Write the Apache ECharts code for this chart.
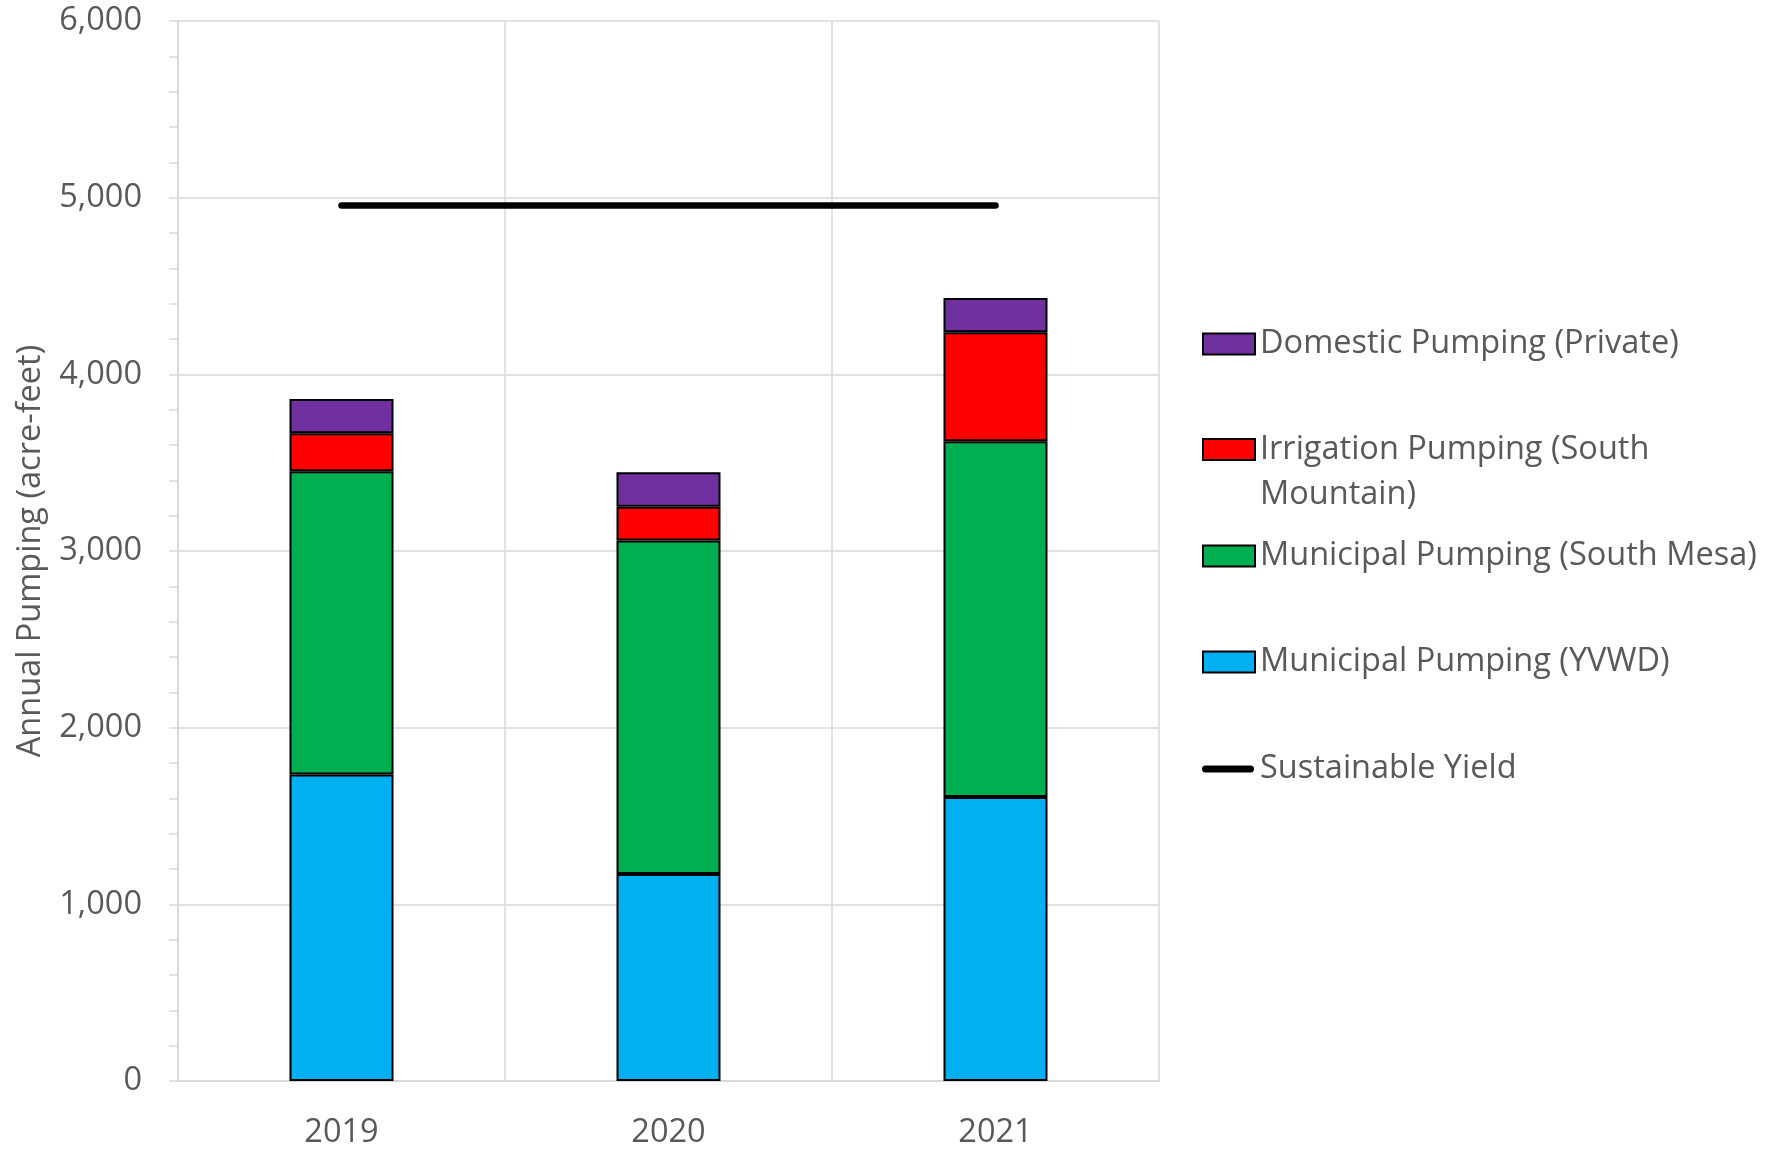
<!DOCTYPE html>
<html>
<head>
<meta charset="utf-8">
<style>
  html, body { margin: 0; padding: 0; background: #ffffff; }
  #chart { width: 1784px; height: 1149px; }
</style>
<script src="https://cdn.jsdelivr.net/npm/echarts@6/dist/echarts.min.js"></script>
</head>
<body>
<div id="chart"></div>
<script>
// Annual pumping by source (acre-feet)
const years = ['2019', '2020', '2021'];
const yvwd = [1735, 1171, 1607];
const southMesa = [1716, 1888, 2014];
const irrigation = [215, 192, 617];
const domestic = [195, 195, 194];
const sustainableYield = [4955, 4955, 4955];
const yTicks = [0, 1000, 2000, 3000, 4000, 5000, 6000];

const FONT = '"Open Sans", sans-serif';
const TEXT = '#595959';
const GRID = '#d9d9d9';
const FS = 32.5;

// Thick line with rounded ends, used as the legend marker of the yield line
const ROUND_LINE = 'path://M3.5,0 L48.5,0 A3.5,3.5 0 0 1 48.5,7 L3.5,7 A3.5,3.5 0 0 1 3.5,0 Z';

const chart = echarts.init(document.getElementById('chart'));

function barSeries(name, data, color) {
  return {
    name: name,
    type: 'bar',
    stack: 'pumping',
    data: data,
    barWidth: 104,
    itemStyle: { color: color, borderColor: '#000000', borderWidth: 2 }
  };
}

function legendItem(name, top, opts) {
  return Object.assign({
    data: [name],
    orient: 'vertical',
    left: 1202,
    top: top,
    padding: 0,
    icon: 'rect',
    itemWidth: 52,
    itemHeight: 21,
    selectedMode: false,
    textStyle: {
      fontFamily: FONT,
      fontSize: FS,
      color: TEXT,
      lineHeight: 38
    }
  }, opts || {});
}

chart.setOption({
  backgroundColor: '#ffffff',
  animation: false,
  textStyle: { fontFamily: FONT },
  grid: { left: 178, right: 625, top: 21, bottom: 67, containLabel: false },
  legend: [
    legendItem('Domestic Pumping (Private)', 325),
    legendItem('Irrigation Pumping (South Mountain)', 382, {
      formatter: function () { return '\nIrrigation Pumping (South\nMountain)'; },
      textStyle: { fontFamily: FONT, fontSize: FS, color: TEXT, lineHeight: 45 }
    }),
    legendItem('Municipal Pumping (South Mesa)', 537),
    legendItem('Municipal Pumping (YVWD)', 643),
    legendItem('Sustainable Yield', 750, {
      icon: ROUND_LINE,
      itemHeight: 7,
      itemWidth: 54,
      itemStyle: { color: '#000000', borderWidth: 0 }
    })
  ],
  xAxis: {
    type: 'category',
    data: years,
    axisLine: { show: true, lineStyle: { color: GRID, width: 2 } },
    axisTick: { show: false },
    splitLine: { show: true, lineStyle: { color: GRID, width: 1.5 } },
    axisLabel: { fontSize: FS, color: TEXT, fontFamily: FONT, margin: 35 }
  },
  yAxis: {
    type: 'value',
    min: yTicks[0],
    max: yTicks[yTicks.length - 1],
    interval: 1000,
    name: 'Annual Pumping (acre-feet)',
    nameLocation: 'middle',
    nameGap: 131,
    nameTextStyle: { fontSize: FS, color: TEXT, fontFamily: FONT },
    axisLine: { show: true, lineStyle: { color: GRID, width: 2 } },
    axisTick: { show: true, length: 9, lineStyle: { color: GRID, width: 1.5 } },
    minorTick: { show: true, splitNumber: 5, length: 9, lineStyle: { color: GRID, width: 1.5 } },
    splitLine: { show: true, lineStyle: { color: GRID, width: 1.5 } },
    axisLabel: {
      fontSize: FS,
      color: TEXT,
      fontFamily: FONT,
      margin: 36,
      formatter: function (v) { return v.toLocaleString('en-US'); }
    }
  },
  series: [
    barSeries('Municipal Pumping (YVWD)', yvwd, '#00B0F0'),
    barSeries('Municipal Pumping (South Mesa)', southMesa, '#00B050'),
    barSeries('Irrigation Pumping (South Mountain)', irrigation, '#FF0000'),
    barSeries('Domestic Pumping (Private)', domestic, '#7030A0'),
    {
      name: 'Sustainable Yield',
      type: 'line',
      data: sustainableYield,
      symbol: 'none',
      showSymbol: false,
      z: 5,
      lineStyle: { color: '#000000', width: 6.5, cap: 'round' },
      itemStyle: { color: '#000000' }
    }
  ]
});
</script>
</body>
</html>
